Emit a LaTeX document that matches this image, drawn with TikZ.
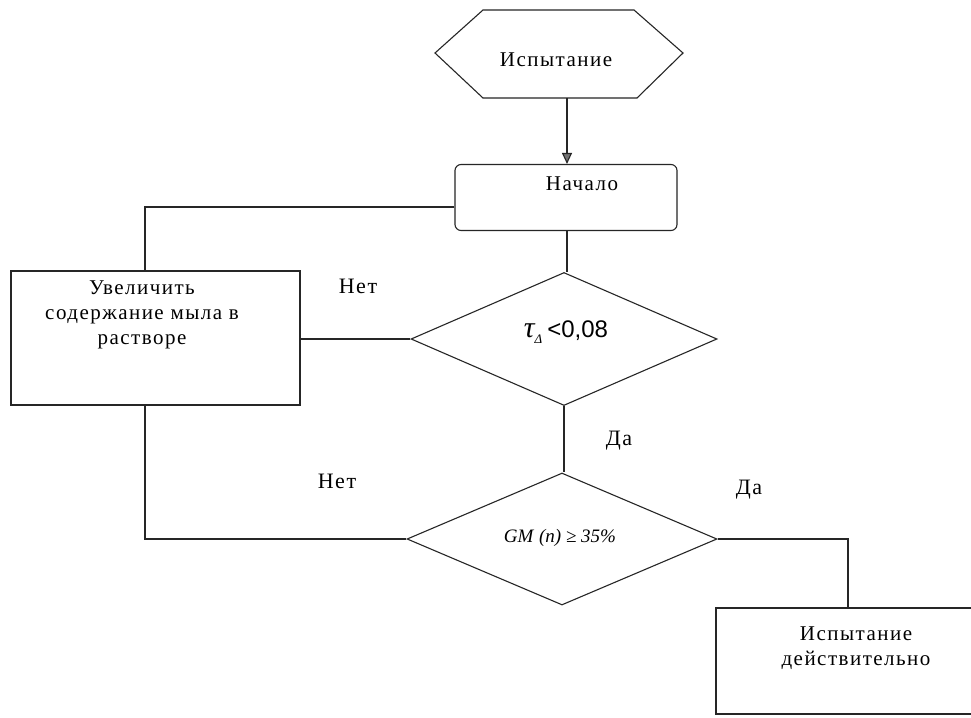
\documentclass[tikz,border=0pt]{standalone}
\usepackage{fontspec}
\setmainfont{Liberation Serif}
\newfontfamily\widef[LetterSpace=7]{Liberation Serif}
\newfontfamily\arialf{Liberation Sans}
\usetikzlibrary{shapes.geometric,arrows.meta}
\begin{document}
\begin{tikzpicture}[x=1pt,y=-1pt, line width=1.1pt,
  flowbox/.style={draw=black!85, rectangle, inner sep=0pt},
  decision/.style={draw=black!85, diamond, inner sep=0pt},
  conn/.style={draw=black!85},
  lbl/.style={font=\widef\fontsize{22}{24}\selectfont},
  boxtxt/.style={font=\widef\fontsize{21}{25}\selectfont, align=center}]
\path[use as bounding box] (0,0) rectangle (971,717);
\clip (0,0) rectangle (971,717);
\fill[white] (0,0) rectangle (971,717);
% hexagon
\coordinate (h1) at (483,10);
\coordinate (h2) at (634,10);
\coordinate (h3) at (683,53);
\coordinate (h4) at (637,98);
\coordinate (h5) at (483,98);
\coordinate (h6) at (435,53);
\draw[conn] (h1) -- (h2) -- (h3) -- (h4) -- (h5) -- (h6) -- cycle;
\node[boxtxt] (test) at (556,60) {Испытание};
\coordinate (hexbot) at (567,98);
% start box
\node[flowbox, rounded corners=6pt, minimum width=222pt, minimum height=66pt] (start) at (566,197.5) {};
\node[boxtxt] (starttxt) at (582,184) {Начало};
\draw[conn, -{Triangle[length=11pt,width=10pt,fill=black!55]}] (hexbot) -- (hexbot |- start.north);
% increase box
\node[flowbox, minimum width=289pt, minimum height=134pt] (inc) at (155.5,338) {};
\node[boxtxt] (inctxt) at (142,315) {Увеличить\\содержание мыла в\\растворе};
% decision 1
\node[decision, minimum width=306pt, minimum height=133pt] (d1) at (564,339) {};
\node (d1txt) at (566,332) {\fontsize{30}{32}\selectfont\itshape τ\raisebox{-6pt}{\fontsize{13}{14}\selectfont Δ}\,\upshape\arialf\fontsize{24}{28}\selectfont <0,08};
% decision 2
\node[decision, minimum width=310pt, minimum height=132pt] (d2) at (562,539) {};
\node (d2txt) at (560,538) {\fontsize{19}{22}\selectfont\itshape GM\/ (n) ≥ 35\%};
% valid box
\node[flowbox, minimum width=280pt, minimum height=106pt] (valid) at (856,661) {};
\node[boxtxt] (validtxt) at (856,648) {Испытание\\действительно};
% connectors
\draw[conn] ([yshift=-9.5pt]start.west) -| ([xshift=-10.5pt]inc.north);
\draw[conn] (start.south -| hexbot) -- (hexbot |- d1.north);
\draw[conn] (d1.west) -- (d1.west -| inc.east);
\draw[conn] (d1.south) -- (d1.south |- d2.north);
\draw[conn] ([xshift=-10.5pt]inc.south) |- (d2.west);
\draw[conn] (d2.east) -| ([xshift=-8pt]valid.north);
% labels
\node[lbl] (no1) at (358,286) {Нет};
\node[lbl] (yes1) at (619,441) {Да};
\node[lbl] (no2) at (337,481) {Нет};
\node[lbl] (yes2) at (749,490) {Да};
\end{tikzpicture}
\end{document}
